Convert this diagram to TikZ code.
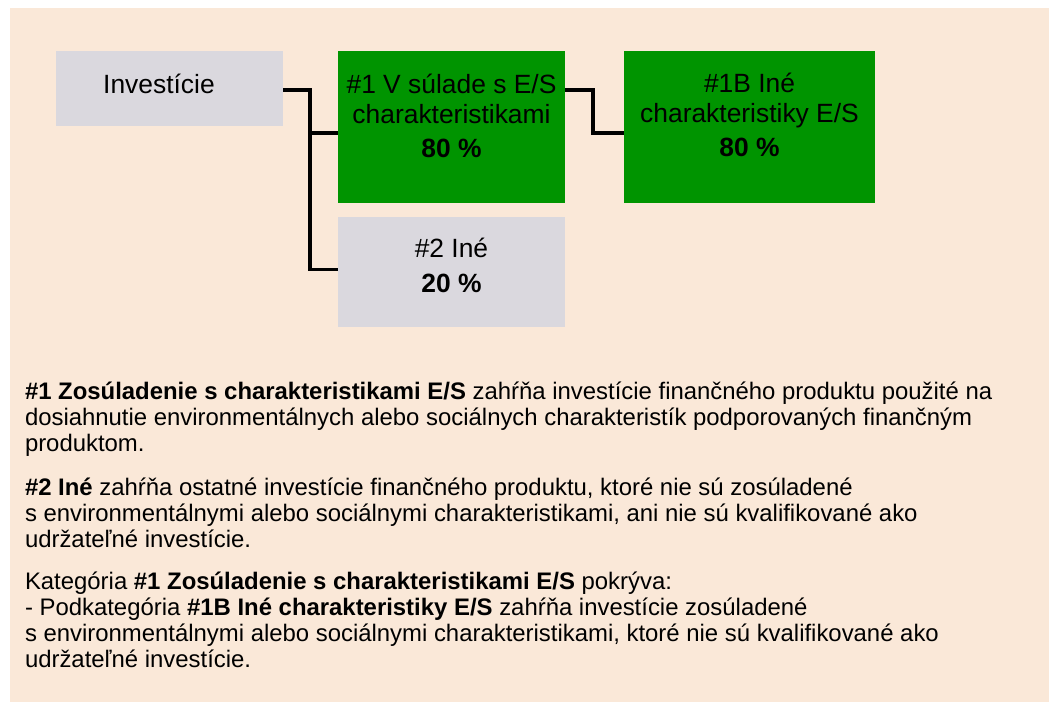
\documentclass[tikz,border=0pt]{standalone}
\usepackage{fontspec}
\setmainfont{Liberation Sans}
\definecolor{peach}{RGB}{250,232,216}
\definecolor{boxgray}{RGB}{218,216,222}
\definecolor{boxgreen}{RGB}{0,148,0}
\tikzset{
  boxnode/.style={rectangle, inner sep=0pt, outer sep=0pt, anchor=north west, draw=none},
  boxtext/.style={inner sep=0pt, outer sep=0pt, anchor=north, align=center, font=\fontsize{26.4}{30.5}\selectfont},
  bodytext/.style={inner sep=0pt, outer sep=0pt, anchor=north west, align=left, font=\fontsize{23.9}{26}\selectfont},
  link/.style={line width=3.5pt, black, line join=miter}
}
\begin{document}
\begin{tikzpicture}[x=1pt,y=-1pt]
\useasboundingbox (0,0) rectangle (1049,702);
\fill[white] (0,0) rectangle (1049,702);
\fill[peach] (10,8) rectangle (1049,702);

% boxes
\node[boxnode, fill=boxgray, minimum width=227, minimum height=75] (inv) at (56,51) {};
\node[boxnode, fill=boxgreen, minimum width=227, minimum height=152] (b1) at (338,51) {};
\node[boxnode, fill=boxgray, minimum width=227, minimum height=110] (b2) at (338,217) {};
\node[boxnode, fill=boxgreen, minimum width=251, minimum height=152] (b1b) at (624,51) {};

% box texts
\node[inner sep=0pt, anchor=base west, font=\fontsize{26.4}{30.5}\selectfont] (invtext) at (103,93) {Investície};
\node[boxtext] (b1text) at (451.5,71.65) {\strut\#1 V súlade s E/S\\charakteristikami\\[3.5pt]\textbf{80 \%}};
\node[boxtext] (b1btext) at (749.5,70.65) {\strut\#1B Iné\\charakteristiky E/S\\[3.5pt]\textbf{80 \%}};
\node[boxtext] (b2text) at (451.5,235.65) {\strut\#2 Iné\\[4.5pt]\textbf{20 \%}};

% connectors
\coordinate (split) at (310,90);
\draw[link] ([yshift=-1.5pt]inv.east) -- (split) |- ([yshift=2.5pt]b2.west);
\draw[link] (split |- 0,133) -- ([yshift=-6pt]b1.west);
\draw[link] ([yshift=37pt]b1.east) -- (593,90) |- ([yshift=-6pt]b1b.west);

% explanatory text
\node[bodytext] (p1) at (25,380.8) {\strut\textbf{\#1 Zosúladenie s charakteristikami E/S} zahŕňa investície finančného produktu použité na\\dosiahnutie environmentálnych alebo sociálnych charakteristík podporovaných finančným\\produktom.};
\node[bodytext] (p2) at (25,477.3) {\strut\textbf{\#2 Iné} zahŕňa ostatné investície finančného produktu, ktoré nie sú zosúladené\\s environmentálnymi alebo sociálnymi charakteristikami, ani nie sú kvalifikované ako\\udržateľné investície.};
\node[bodytext] (p3) at (25,570.8) {\strut Kategória \textbf{\#1 Zosúladenie s charakteristikami E/S} pokrýva:\\- Podkategória \textbf{\#1B Iné charakteristiky E/S} zahŕňa investície zosúladené\\s environmentálnymi alebo sociálnymi charakteristikami, ktoré nie sú kvalifikované ako\\udržateľné investície.};
\end{tikzpicture}
\end{document}
